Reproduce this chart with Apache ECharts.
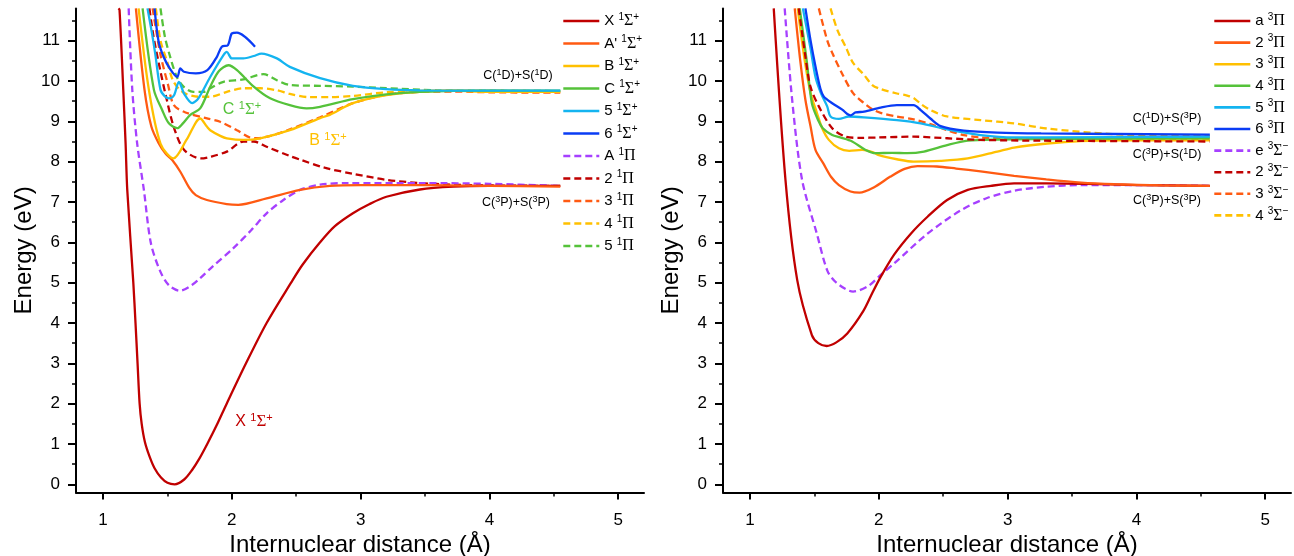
<!DOCTYPE html>
<html><head><meta charset="utf-8">
<script src="https://cdn.jsdelivr.net/npm/echarts@6/dist/echarts.min.js"></script>
<style>html,body{margin:0;padding:0;background:#fff}#c{width:1294px;height:556px}</style>
</head><body><div id="c"></div>
<script>
// ---------- tick labels ----------
const X_TICKS = [1, 2, 3, 4, 5];
const Y_TICKS = [0, 1, 2, 3, 4, 5, 6, 7, 8, 9, 10, 11];

// ---------- left panel: singlet states ----------
const L_NAMES = ['X ¹Σ⁺', "A' ¹Σ⁺", 'B ¹Σ⁺', 'C ¹Σ⁺', '5 ¹Σ⁺', '6 ¹Σ⁺', 'A ¹Π', '2 ¹Π', '3 ¹Π', '4 ¹Π', '5 ¹Π'];

const X1S_r = [1.12, 1.128, 1.157, 1.175, 1.188, 1.235, 1.252, 1.268, 1.284, 1.30, 1.325, 1.36, 1.40, 1.45, 1.50, 1.556, 1.63, 1.69, 1.75, 1.809, 1.88, 1.96, 2.11, 2.27, 2.46, 2.55, 2.685, 2.8, 2.94, 3.07, 3.2, 3.46, 3.72, 4.0, 4.3, 4.55];
const X1S_E = [11.8, 11.76, 9.78, 8.45, 7.3, 5.0, 4.0, 3.0, 2.0, 1.5, 1.05, 0.7, 0.4, 0.17, 0.04, 0.0, 0.12, 0.35, 0.65, 1.0, 1.45, 2.0, 3.0, 4.0, 5.0, 5.45, 6.0, 6.4, 6.72, 6.95, 7.13, 7.31, 7.38, 7.4, 7.4, 7.4];

const Ap1S_r = [1.255, 1.322, 1.375, 1.433, 1.485, 1.537, 1.60, 1.67, 1.72, 1.806, 1.96, 2.05, 2.27, 2.53, 2.76, 3.0, 3.5, 4.0, 4.55];
const Ap1S_E = [11.8, 9.78, 8.87, 8.45, 8.2, 8.04, 7.75, 7.35, 7.17, 7.05, 6.95, 6.93, 7.09, 7.3, 7.4, 7.42, 7.42, 7.4, 7.38];

const B1S_r = [1.276, 1.356, 1.446, 1.547, 1.65, 1.754, 1.806, 1.832, 1.91, 1.961, 2.09, 2.22, 2.45, 2.685, 2.76, 2.94, 3.2, 3.46, 3.72, 4.0, 4.55];
const B1S_E = [11.8, 9.78, 8.45, 8.08, 8.55, 9.07, 8.87, 8.78, 8.64, 8.58, 8.54, 8.58, 8.78, 9.08, 9.16, 9.45, 9.65, 9.73, 9.76, 9.73, 9.73];

const C1S_r = [1.307, 1.395, 1.459, 1.511, 1.576, 1.62, 1.677, 1.754, 1.832, 1.90, 1.974, 2.04, 2.17, 2.297, 2.45, 2.58, 2.685, 2.94, 3.2, 3.46, 4.0, 4.55];
const C1S_E = [11.8, 9.78, 9.28, 8.95, 8.83, 8.95, 9.16, 9.32, 9.86, 10.25, 10.39, 10.27, 9.86, 9.57, 9.4, 9.32, 9.36, 9.55, 9.67, 9.73, 9.76, 9.76];

const S5_1S_r = [1.345, 1.379, 1.405, 1.446, 1.48, 1.511, 1.55, 1.589, 1.63, 1.692, 1.74, 1.832, 1.935, 1.961, 2.0, 2.09, 2.17, 2.23, 2.35, 2.45, 2.685, 2.94, 3.2, 3.46, 4.0, 4.55];
const S5_1S_E = [11.8, 11.2, 10.68, 9.78, 9.62, 9.57, 9.64, 9.98, 9.68, 9.45, 9.57, 10.1, 10.64, 10.72, 10.56, 10.56, 10.62, 10.68, 10.56, 10.35, 10.07, 9.88, 9.80, 9.77, 9.76, 9.76];

const S6_1S_r = [1.40, 1.43, 1.47, 1.52, 1.576, 1.60, 1.628, 1.72, 1.81, 1.884, 1.922, 1.97, 2.0, 2.04, 2.18];
const S6_1S_E = [11.8, 11.0, 10.6, 10.3, 10.1, 10.31, 10.23, 10.19, 10.27, 10.6, 10.85, 10.89, 11.18, 11.2, 10.85];

const A1P_r = [1.199, 1.227, 1.265, 1.317, 1.37, 1.44, 1.51, 1.596, 1.69, 1.75, 1.85, 2.01, 2.15, 2.27, 2.4, 2.53, 2.685, 2.9, 3.5, 4.0, 4.55];
const A1P_E = [11.8, 9.78, 8.45, 7.3, 6.0, 5.31, 4.94, 4.8, 4.94, 5.1, 5.4, 5.85, 6.3, 6.72, 7.05, 7.3, 7.43, 7.47, 7.47, 7.45, 7.4];

const P2_1P_r = [1.36, 1.392, 1.444, 1.49, 1.55, 1.63, 1.76, 1.832, 1.961, 2.09, 2.17, 2.27, 2.45, 2.53, 2.72, 2.94, 3.2, 3.46, 3.72, 4.0, 4.55];
const P2_1P_E = [11.8, 11.1, 10.27, 9.6, 8.85, 8.29, 8.08, 8.12, 8.25, 8.5, 8.5, 8.37, 8.14, 8.05, 7.85, 7.7, 7.55, 7.47, 7.43, 7.41, 7.4];

const P3_1P_r = [1.385, 1.444, 1.505, 1.55, 1.64, 1.80, 1.909, 2.04, 2.14, 2.2, 2.3, 2.45, 2.685, 2.94, 3.2, 3.46, 3.72, 4.0, 4.55];
const P3_1P_E = [11.8, 10.68, 9.9, 9.4, 9.22, 9.08, 8.99, 8.78, 8.6, 8.58, 8.64, 8.8, 9.1, 9.45, 9.66, 9.73, 9.74, 9.72, 9.71];

const P4_1P_r = [1.41, 1.446, 1.496, 1.545, 1.62, 1.74, 1.832, 1.961, 2.09, 2.22, 2.35, 2.45, 2.6, 2.76, 2.94, 3.2, 3.6, 4.0, 4.55];
const P4_1P_E = [11.8, 11.0, 10.5, 10.0, 9.72, 9.61, 9.61, 9.73, 9.82, 9.82, 9.77, 9.68, 9.6, 9.6, 9.63, 9.72, 9.76, 9.76, 9.74];

const P5_1P_r = [1.446, 1.48, 1.521, 1.573, 1.625, 1.70, 1.78, 1.832, 1.935, 2.09, 2.245, 2.35, 2.45, 2.685, 2.94, 3.2, 3.6, 4.0, 4.55];
const P5_1P_E = [11.8, 11.1, 10.6, 10.1, 9.86, 9.73, 9.73, 9.82, 9.98, 10.04, 10.17, 10.02, 9.9, 9.88, 9.86, 9.82, 9.77, 9.76, 9.75];

// ---------- right panel: triplet states ----------
const R_NAMES = ['a ³Π', '2 ³Π', '3 ³Π', '4 ³Π', '5 ³Π', '6 ³Π', 'e ³Σ⁻', '2 ³Σ⁻', '3 ³Σ⁻', '4 ³Σ⁻'];

const a3P_r = [1.184, 1.275, 1.366, 1.48, 1.53, 1.595, 1.67, 1.755, 1.88, 1.95, 2.01, 2.12, 2.25, 2.38, 2.53, 2.69, 2.87, 3.05, 3.3, 3.6, 4.0, 4.57];
const a3P_E = [11.8, 7.55, 5.07, 3.7, 3.5, 3.43, 3.52, 3.74, 4.3, 4.75, 5.12, 5.7, 6.22, 6.64, 7.05, 7.3, 7.4, 7.46, 7.46, 7.45, 7.42, 7.4];

const T2_3P_r = [1.347, 1.39, 1.43, 1.47, 1.508, 1.57, 1.63, 1.69, 1.78, 1.85, 1.96, 2.09, 2.2, 2.3, 2.45, 2.6, 2.79, 3.05, 3.3, 3.57, 3.83, 4.2, 4.57];
const T2_3P_E = [11.8, 10.5, 9.53, 8.87, 8.29, 7.95, 7.62, 7.42, 7.26, 7.23, 7.36, 7.63, 7.82, 7.89, 7.88, 7.83, 7.76, 7.65, 7.56, 7.48, 7.44, 7.41, 7.4];

const T3_3P_r = [1.37, 1.42, 1.47, 1.52, 1.56, 1.612, 1.69, 1.77, 1.87, 1.95, 2.0, 2.14, 2.27, 2.48, 2.69, 2.92, 3.05, 3.31, 3.57, 3.83, 4.57];
const T3_3P_E = [11.8, 10.6, 9.7, 9.2, 8.83, 8.54, 8.33, 8.27, 8.29, 8.24, 8.16, 8.06, 8.0, 8.02, 8.08, 8.25, 8.35, 8.45, 8.51, 8.53, 8.53];

const T4_3P_r = [1.386, 1.44, 1.48, 1.53, 1.565, 1.638, 1.70, 1.793, 1.897, 1.975, 2.1, 2.22, 2.35, 2.53, 2.69, 2.92, 3.26, 4.57];
const T4_3P_E = [11.8, 10.5, 9.45, 9.02, 8.83, 8.66, 8.6, 8.5, 8.29, 8.21, 8.22, 8.21, 8.25, 8.41, 8.52, 8.55, 8.56, 8.58];

const T5_3P_r = [1.41, 1.47, 1.508, 1.55, 1.599, 1.625, 1.69, 1.768, 1.885, 2.14, 2.325, 2.53, 2.79, 3.05, 3.26, 4.57];
const T5_3P_E = [11.8, 10.8, 10.1, 9.7, 9.37, 9.12, 9.06, 9.12, 9.1, 9.03, 8.95, 8.8, 8.66, 8.6, 8.6, 8.62];

const T6_3P_r = [1.43, 1.47, 1.508, 1.547, 1.573, 1.638, 1.716, 1.755, 1.78, 1.82, 1.885, 2.014, 2.14, 2.27, 2.325, 2.4, 2.48, 2.66, 2.92, 3.26, 4.57];
const T6_3P_E = [11.8, 11.0, 10.36, 9.8, 9.61, 9.45, 9.29, 9.18, 9.15, 9.22, 9.24, 9.34, 9.4, 9.4, 9.28, 9.07, 8.88, 8.77, 8.72, 8.7, 8.67];

const e3S_r = [1.269, 1.327, 1.404, 1.52, 1.60, 1.67, 1.80, 1.92, 2.01, 2.12, 2.38, 2.64, 2.84, 3.05, 3.3, 3.57, 4.0, 4.57];
const e3S_E = [11.8, 9.53, 7.55, 6.2, 5.3, 5.0, 4.78, 4.92, 5.18, 5.48, 6.22, 6.8, 7.1, 7.28, 7.38, 7.42, 7.42, 7.4];

const S2_3S_r = [1.378, 1.43, 1.469, 1.534, 1.638, 1.742, 1.85, 2.0, 2.27, 2.53, 2.79, 3.26, 4.57];
const S2_3S_E = [11.8, 10.6, 9.86, 9.37, 8.83, 8.62, 8.59, 8.6, 8.62, 8.58, 8.54, 8.52, 8.5];

const S3_3S_r = [1.534, 1.60, 1.638, 1.72, 1.80, 1.885, 1.949, 2.014, 2.14, 2.27, 2.4, 2.53, 2.66, 2.79, 3.05, 4.57];
const S3_3S_E = [11.8, 11.0, 10.7, 10.15, 9.7, 9.45, 9.3, 9.21, 9.12, 9.05, 8.93, 8.78, 8.66, 8.6, 8.58, 8.55];

const S4_3S_r = [1.625, 1.68, 1.742, 1.80, 1.885, 1.949, 2.014, 2.14, 2.22, 2.27, 2.33, 2.4, 2.53, 2.79, 3.05, 3.31, 3.83, 4.57];
const S4_3S_E = [11.8, 11.25, 10.85, 10.45, 10.15, 9.9, 9.8, 9.69, 9.64, 9.58, 9.42, 9.28, 9.12, 9.03, 8.95, 8.82, 8.68, 8.63];

// ---------- styling ----------
const FONT = "'Liberation Sans', Arial, sans-serif";
const SERIF = "'Liberation Serif', 'Times New Roman', serif";
const DR = '#C00000', OR = '#FF5A12', YE = '#FFC000', GR = '#55C23A', LB = '#14B4F0', BL = '#0A3CF5', PU = '#A640FF';

const SUP = { '¹': '1', '³': '3', '⁺': '+', '⁻': '−' };
function toRich(s) {
  let out = '', buf = '';
  const flush = () => { if (buf) { out += '{n|' + buf + '}'; buf = ''; } };
  for (const ch of s) {
    if (SUP[ch]) { flush(); out += '{s|' + SUP[ch] + '}'; }
    else if (ch === 'Σ' || ch === 'Π') { flush(); out += '{g|' + ch + '}'; }
    else buf += ch;
  }
  flush();
  return out;
}
function richSet(size, color, lh) {
  return {
    n: { fontSize: size, fontFamily: FONT, color: color, fill: color, lineHeight: lh },
    s: { fontSize: Math.round(size * 0.68), fontFamily: FONT, color: color, fill: color, lineHeight: Math.round(size * 0.8), verticalAlign: 'top' },
    g: { fontSize: size + 1, fontFamily: SERIF, color: color, fill: color, lineHeight: lh }
  };
}

function mk(name, rs, es, color, dashed, axis) {
  return {
    type: 'line', name: name, xAxisIndex: axis, yAxisIndex: axis,
    data: rs.map((r, i) => [r, es[i]]),
    showSymbol: false, symbol: 'none', smooth: 0.3, clip: true,
    lineStyle: { color: color, width: 2.3, type: dashed ? [7, 4] : 'solid' },
    itemStyle: { color: color },
    emphasis: { disabled: true }
  };
}

const series = [
  mk(L_NAMES[10], P5_1P_r, P5_1P_E, GR, true, 0),
  mk(L_NAMES[9], P4_1P_r, P4_1P_E, YE, true, 0),
  mk(L_NAMES[8], P3_1P_r, P3_1P_E, OR, true, 0),
  mk(L_NAMES[7], P2_1P_r, P2_1P_E, DR, true, 0),
  mk(L_NAMES[6], A1P_r, A1P_E, PU, true, 0),
  mk(L_NAMES[0], X1S_r, X1S_E, DR, false, 0),
  mk(L_NAMES[1], Ap1S_r, Ap1S_E, OR, false, 0),
  mk(L_NAMES[2], B1S_r, B1S_E, YE, false, 0),
  mk(L_NAMES[3], C1S_r, C1S_E, GR, false, 0),
  mk(L_NAMES[4], S5_1S_r, S5_1S_E, LB, false, 0),
  mk(L_NAMES[5], S6_1S_r, S6_1S_E, BL, false, 0),

  mk(R_NAMES[9], S4_3S_r, S4_3S_E, YE, true, 1),
  mk(R_NAMES[8], S3_3S_r, S3_3S_E, OR, true, 1),
  mk(R_NAMES[6], e3S_r, e3S_E, PU, true, 1),
  mk(R_NAMES[0], a3P_r, a3P_E, DR, false, 1),
  mk(R_NAMES[1], T2_3P_r, T2_3P_E, OR, false, 1),
  mk(R_NAMES[2], T3_3P_r, T3_3P_E, YE, false, 1),
  mk(R_NAMES[3], T4_3P_r, T4_3P_E, GR, false, 1),
  mk(R_NAMES[7], S2_3S_r, S2_3S_E, DR, true, 1),
  mk(R_NAMES[4], T5_3P_r, T5_3P_E, LB, false, 1),
  mk(R_NAMES[5], T6_3P_r, T6_3P_E, BL, false, 1)
];

function xAx(g) {
  return {
    type: 'value', gridIndex: g, min: 0.79, max: 5.2, splitNumber: 4,
    name: 'Internuclear distance (Å)', nameLocation: 'middle', nameGap: 35,
    nameTextStyle: { fontSize: 24, fontFamily: FONT, color: '#000' },
    axisLine: { show: true, onZero: false, lineStyle: { color: '#000', width: 2 } },
    axisTick: { show: true, inside: false, length: 7, lineStyle: { color: '#000', width: 2 }, customValues: X_TICKS },
    minorTick: { show: true, splitNumber: 2, length: 4, lineStyle: { color: '#000', width: 1.5 } },
    axisLabel: { fontSize: 17, fontFamily: FONT, color: '#000', margin: 19, customValues: X_TICKS },
    splitLine: { show: false }, minorSplitLine: { show: false }
  };
}
function yAx(g) {
  return {
    type: 'value', gridIndex: g, min: -0.2, max: 11.8, splitNumber: 12,
    name: 'Energy (eV)', nameLocation: 'middle', nameGap: 40,
    nameTextStyle: { fontSize: 24, fontFamily: FONT, color: '#000' },
    axisLine: { show: true, onZero: false, lineStyle: { color: '#000', width: 2 } },
    axisTick: { show: true, inside: false, length: 8, lineStyle: { color: '#000', width: 2 }, customValues: Y_TICKS },
    minorTick: { show: true, splitNumber: 2, length: 4, lineStyle: { color: '#000', width: 1.5 } },
    axisLabel: { fontSize: 17, fontFamily: FONT, color: '#000', margin: 16, customValues: Y_TICKS },
    splitLine: { show: false }, minorSplitLine: { show: false }
  };
}

function legend(names, left, gap) {
  return {
    data: names, orient: 'vertical', left: left, top: 12, padding: 0,
    itemWidth: 36, itemHeight: 14, itemGap: gap, selectedMode: false,
    itemStyle: { opacity: 0, color: 'transparent', borderWidth: 0 },
    lineStyle: { width: 2.6 },
    formatter: toRich,
    textStyle: { rich: richSet(15, '#000', 18) }
  };
}

function txt(str, x, y, size, color) {
  return {
    type: 'text', x: x, y: y, z: 100,
    style: { text: toRich(str), fill: color, rich: richSet(size, color, Math.round(size * 1.2)), align: 'center', verticalAlign: 'middle' }
  };
}

const chart = echarts.init(document.getElementById('c'), null, { renderer: 'canvas' });
chart.setOption({
  animation: false,
  backgroundColor: '#fff',
  grid: [
    { left: 76, top: 8.4, width: 568, height: 484, outerBoundsMode: 'none', containLabel: false },
    { left: 723, top: 8.4, width: 568, height: 484, outerBoundsMode: 'none', containLabel: false }
  ],
  xAxis: [xAx(0), xAx(1)],
  yAxis: [yAx(0), yAx(1)],
  legend: [legend(L_NAMES, 562, 5.5), legend(R_NAMES, 1213, 4.6)],
  series: series,
  graphic: [
    txt('X ¹Σ⁺', 254, 422, 16, DR),
    txt('C ¹Σ⁺', 242, 110, 16, GR),
    txt('B ¹Σ⁺', 328, 141, 16, YE),
    txt('C(¹D)+S(¹D)', 518, 76, 12.5, '#000'),
    txt('C(³P)+S(³P)', 516, 203, 12.5, '#000'),
    txt('C(¹D)+S(³P)', 1167, 119, 12.5, '#000'),
    txt('C(³P)+S(¹D)', 1167, 155, 12.5, '#000'),
    txt('C(³P)+S(³P)', 1167, 201, 12.5, '#000')
  ]
});
</script>
</body></html>
